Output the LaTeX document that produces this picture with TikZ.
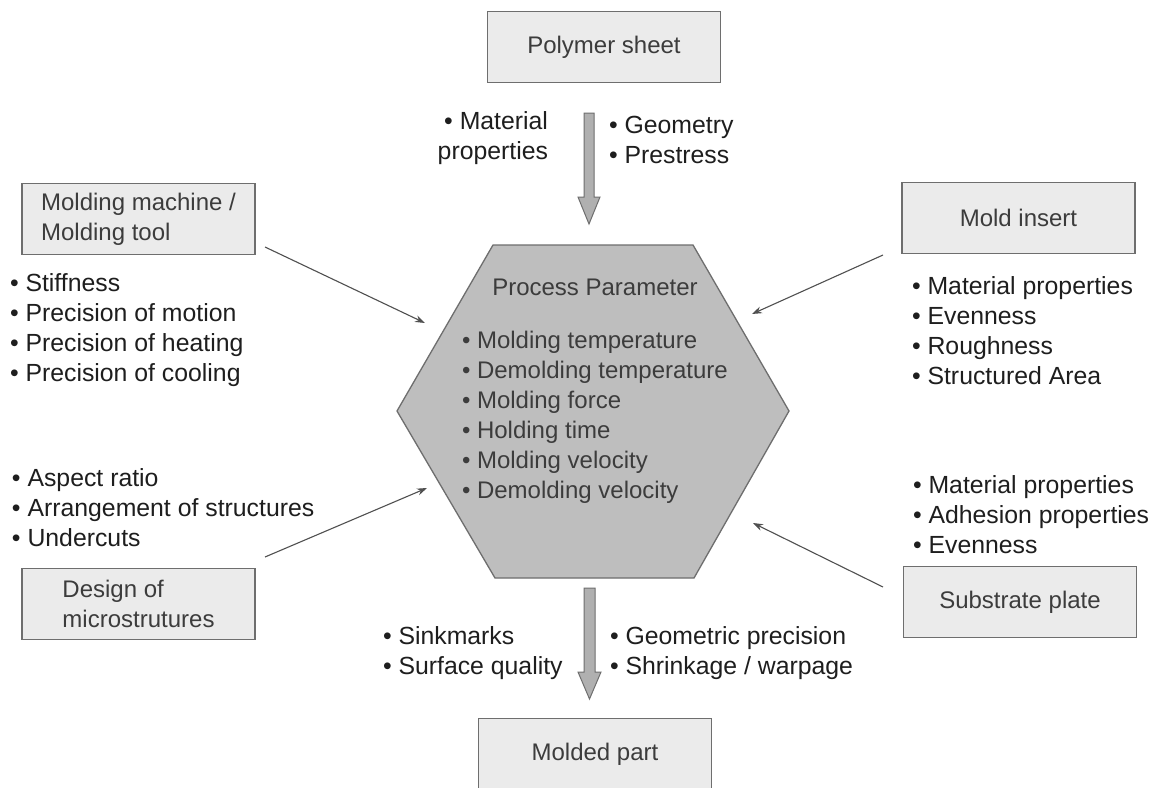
\documentclass[tikz,border=0pt]{standalone}
\usepackage{fontspec}
\setmainfont{Liberation Sans}
\usetikzlibrary{arrows.meta}
\definecolor{boxfill}{HTML}{EBEBEB}
\definecolor{boxline}{HTML}{6E6E6E}
\definecolor{hexfill}{HTML}{BEBEBE}
\definecolor{txt}{HTML}{1E1E1E}
\definecolor{boxtxt}{HTML}{3C3C3C}
\definecolor{connc}{HTML}{505050}
\definecolor{bigfill}{HTML}{B0B0B0}
\begin{document}
\begin{tikzpicture}[x=1pt,y=-1pt,
  every node/.style={font=\fontsize{24}{30}\selectfont, inner sep=0pt, outer sep=0pt},
  box/.style={draw=boxline, fill=boxfill, line width=1.3pt, text=boxtxt, minimum width=233pt, minimum height=71pt},
  lst/.style={align=left, anchor=west, text=txt, font=\fontsize{24.8}{30}\selectfont},
  conn/.style={draw=connc, line width=1.1pt, -{Stealth[length=10pt,width=7pt]}},
  big/.style={draw=boxline, fill=bigfill, line width=1pt}]
\useasboundingbox (0,0) rectangle (1151,787);
\fill[white] (0,0) rectangle (1151,787);

% hexagon
\coordinate (h1) at (493,245);
\coordinate (h2) at (693,245);
\coordinate (h3) at (789,411);
\coordinate (h4) at (694,578);
\coordinate (h5) at (495,578);
\coordinate (h6) at (397,411);
\draw[draw=boxline, fill=hexfill, line width=1.3pt] (h1) -- (h2) -- (h3) -- (h4) -- (h5) -- (h6) -- cycle;
\node[text=boxtxt] (pp) at (595,287) {Process Parameter};
\node[lst, text=boxtxt, font=\fontsize{24}{30}\selectfont] (pplist) at (462,417) {• Molding temperature\\• Demolding temperature\\• Molding force\\• Holding time\\• Molding velocity\\• Demolding velocity};

% boxes
\node[box] (poly) at (604,47) {Polymer sheet};
\node[box, align=left] (mach) at (138.5,219) {Molding machine /\\Molding tool};
\node[box] (insert) at (1018.5,218) {Mold insert};
\node[box, align=left] (design) at (138.5,604) {Design of\\microstrutures};
\node[box] (subst) at (1020,602) {Substrate plate};
\node[box] (part) at (595,754) {Molded part};

% lists
\node[align=right, anchor=east, text=txt, font=\fontsize{24.8}{30}\selectfont] (toplist1) at (548,138) {• Material\\properties};
\node[lst] (toplist2) at (609,140) {• Geometry\\• Prestress};
\node[lst] (machlist) at (10,330.5) {• Stiffness\\• Precision of motion\\• Precision of heating\\• Precision of cooling};
\node[lst] (insertlist) at (912,331) {• Material properties\\• Evenness\\• Roughness\\• Structured Area};
\node[lst] (designlist) at (12,508) {• Aspect ratio\\• Arrangement of structures\\• Undercuts};
\node[lst] (substlist) at (913,515) {• Material properties\\• Adhesion properties\\• Evenness};
\node[lst] (botlist1) at (383,653) {• Sinkmarks\\• Surface quality};
\node[lst] (botlist2) at (610,653) {• Geometric precision\\• Shrinkage / warpage};

% thin connectors
\coordinate (machA) at (265,247);
\coordinate (machB) at (425,323);
\coordinate (insA) at (883,255);
\coordinate (insB) at (752,314);
\coordinate (desA) at (265,557);
\coordinate (desB) at (427,488);
\coordinate (subA) at (883,587);
\coordinate (subB) at (753,523);
\draw[conn] (machA) -- (machB);
\draw[conn] (insA) -- (insB);
\draw[conn] (desA) -- (desB);
\draw[conn] (subA) -- (subB);

% big arrows
\coordinate (topA) at (589,113);
\coordinate (topB) at (589,224);
\draw[big] (topA) ++(-5,0) -- ++(10,0) -- ++(0,84) -- ++(6,0) -- (topB) -- ++(-11,-27) -- ++(6,0) -- cycle;
\coordinate (botA) at (589.5,588);
\coordinate (botB) at (589.5,699);
\draw[big] (botA) ++(-5.5,0) -- ++(11,0) -- ++(0,84) -- ++(6,0) -- (botB) -- ++(-11.5,-27) -- ++(6,0) -- cycle;
\end{tikzpicture}
\end{document}
